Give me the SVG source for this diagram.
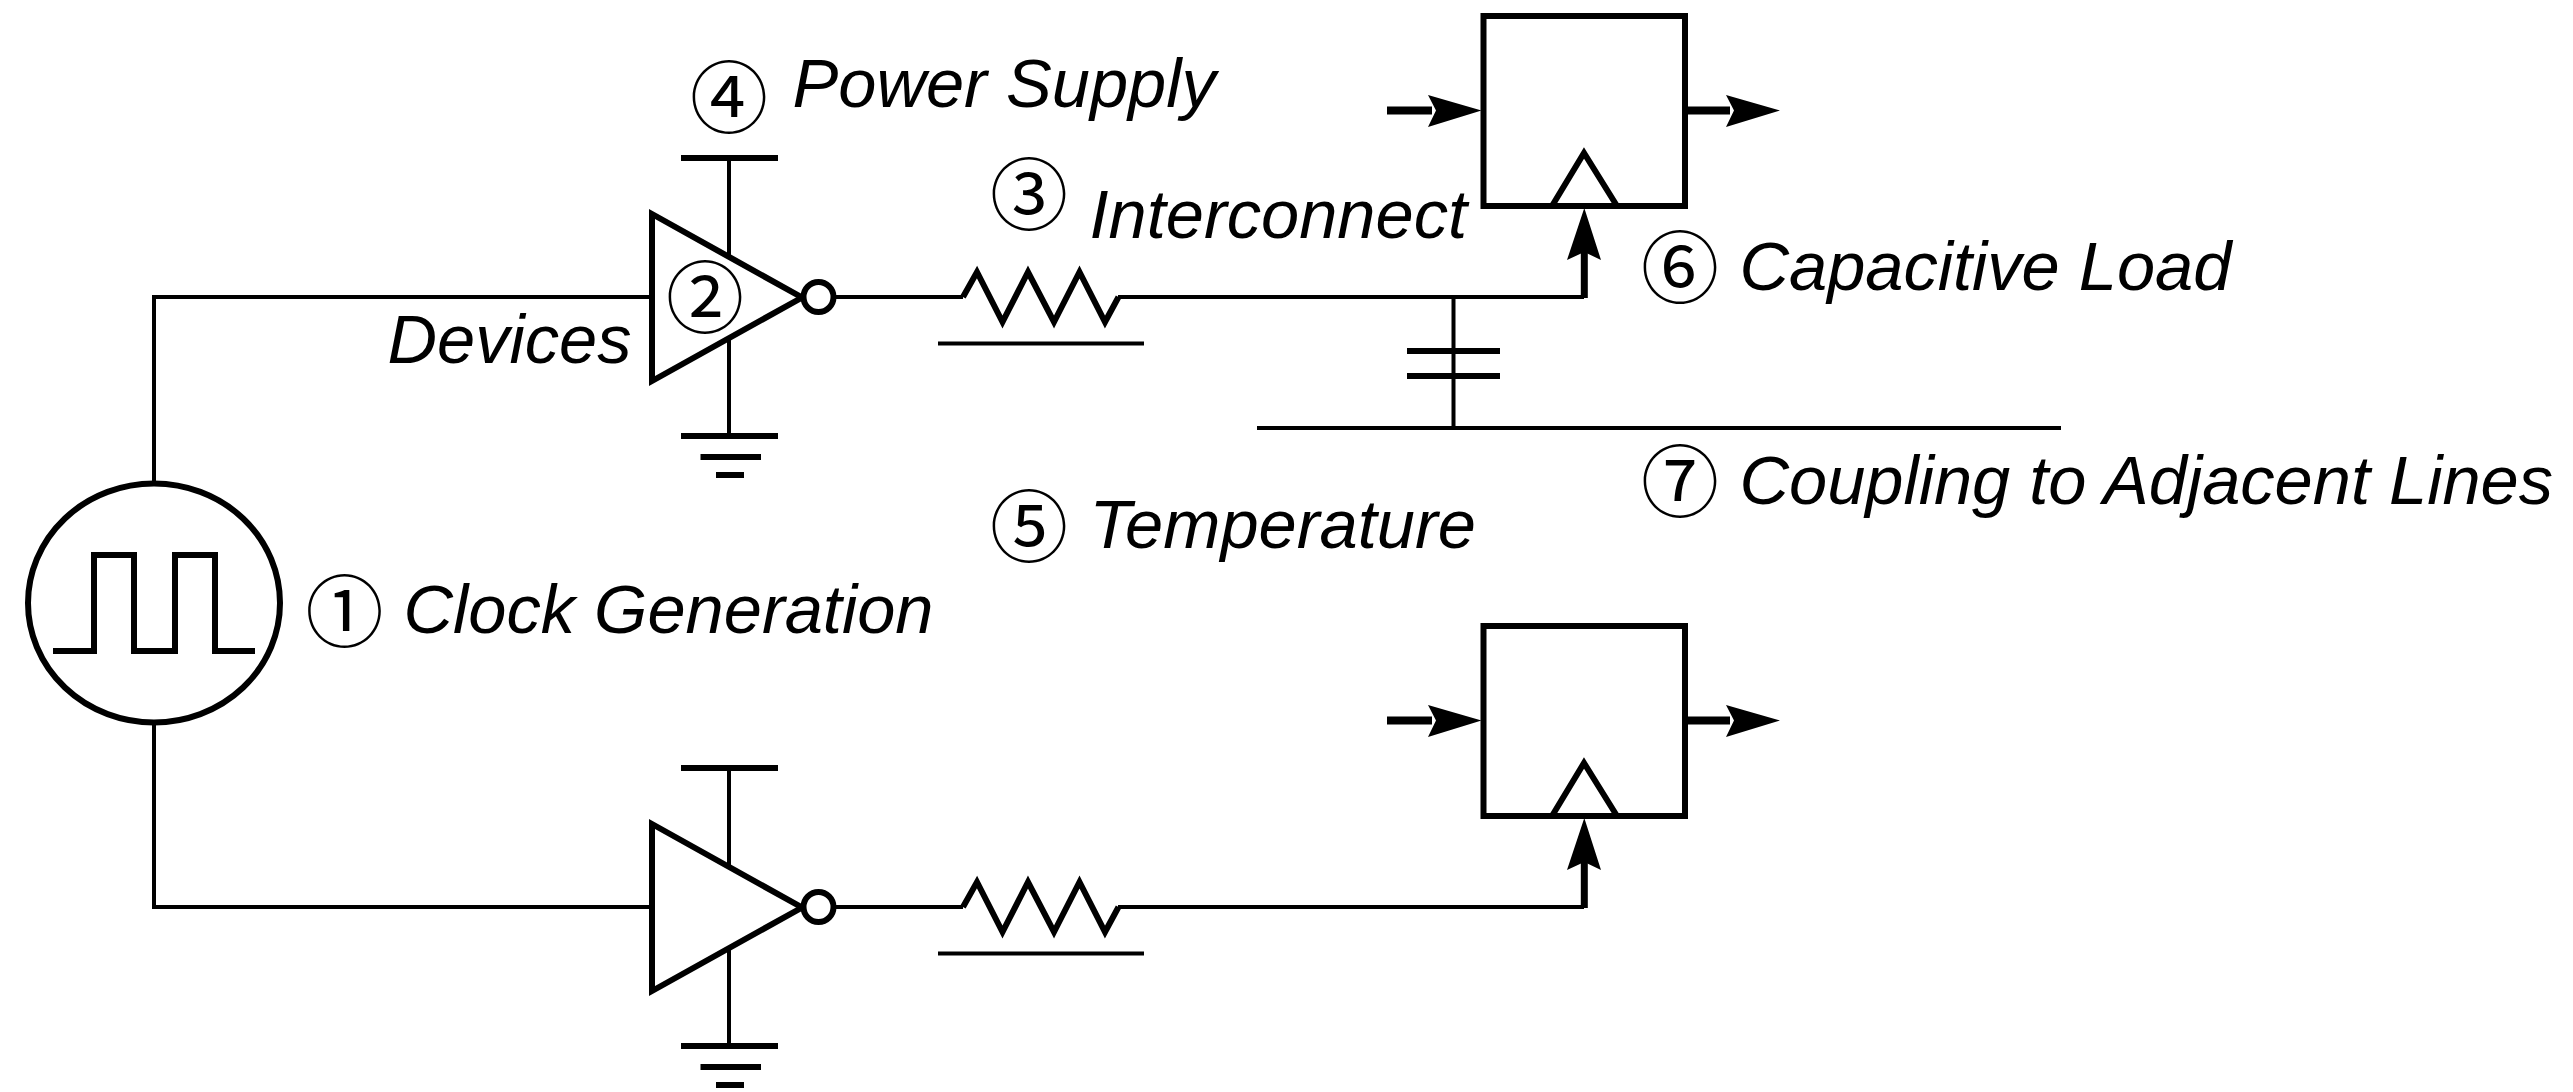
<svg xmlns="http://www.w3.org/2000/svg" width="2573" height="1092" viewBox="0 0 2573 1092">
<style>
.w{fill:none;stroke:#000;stroke-width:4}
.t{fill:none;stroke:#000;stroke-width:6}
.g{fill:#fff;stroke:#000;stroke-width:6}
.a{fill:#000;stroke:none}
.s{stroke:#000;stroke-width:8}
.l{font-family:"Liberation Sans",Arial,sans-serif;font-style:italic;font-size:68.600px;fill:#000}
.n{font-family:"Noto Sans CJK JP","DejaVu Sans",sans-serif;font-size:78px;fill:#000;text-anchor:middle}
</style>
<defs>
<g id="inv">
<line class="w" x1="729" y1="160" x2="729" y2="436"/>
<line class="t" x1="681" y1="158" x2="778" y2="158"/>
<line class="t" x1="681" y1="436" x2="778" y2="436"/>
<line class="t" x1="700.500" y1="457" x2="761" y2="457"/>
<line class="t" x1="716" y1="475" x2="744" y2="475"/>
<path class="g" d="M652 214V381L802 297.500Z"/>
<circle class="g" cx="818.500" cy="297" r="15"/>
<line class="w" x1="836" y1="297" x2="963" y2="297"/>
<path class="t" d="M963 297L977 272L1002.500 322L1028 272L1054 322L1079.500 272L1105 322L1118.500 297"/>
<line class="w" x1="938" y1="343.500" x2="1144" y2="343.500"/>
</g>
<g id="ff">
<rect class="t" x="1483.500" y="16" width="201.500" height="190"/>
<path class="t" d="M1552 206L1584 153L1617 206"/>
<line class="s" x1="1387" y1="110.500" x2="1432" y2="110.500"/>
<path class="a" d="M1481.500 110.500L1428 95L1436 110.500L1428 127Z"/>
<line class="s" x1="1688" y1="110.500" x2="1730" y2="110.500"/>
<path class="a" d="M1780 110.500L1726 95L1734 110.500L1726 127Z"/>
<path class="a" d="M1584.300 208L1567 260L1584.300 252L1601 260Z"/>
<line x1="1584.300" y1="245" x2="1584.300" y2="298" stroke="#000" stroke-width="7"/>
</g>
</defs>
<g id="connectors">
<path class="w" d="M154 481V297H652"/>
<path class="w" d="M154 722V907H652"/>
<path class="w" d="M1118 297H1584"/>
<path class="w" d="M1118 907H1584"/>
<line class="w" x1="1453.500" y1="297" x2="1453.500" y2="428"/>
<line class="w" x1="1257" y1="428" x2="2061" y2="428"/>
</g>
<g id="clock-source">
<ellipse class="g" cx="154" cy="603" rx="126" ry="119.500"/>
<path class="t" d="M53 651H94V555H134V651H175V555H215V651H255"/>
</g>
<g id="inverter-top"><use href="#inv"/></g>
<g id="inverter-bottom"><use href="#inv" y="610"/></g>
<g id="flipflop-top"><use href="#ff"/></g>
<g id="flipflop-bottom"><use href="#ff" y="610"/></g>
<g id="capacitor">
<line class="t" x1="1407" y1="351" x2="1500" y2="351"/>
<line class="t" x1="1407" y1="376" x2="1500" y2="376"/>
</g>
<g id="labels">
<text class="n" x="344.500" y="641">①</text><text class="l" x="403.500" y="633">Clock Generation</text>
<text class="n" x="705" y="327">②</text><text class="l" x="387.500" y="363">Devices</text>
<text class="n" x="1029" y="224">③</text><text class="l" x="1089.500" y="238">Interconnect</text>
<text class="n" x="729" y="127">④</text><text class="l" x="792.500" y="107">Power Supply</text>
<text class="n" x="1029" y="556">⑤</text><text class="l" x="1089.500" y="548">Temperature</text>
<text class="n" x="1680" y="297">⑥</text><text class="l" x="1739.500" y="290">Capacitive Load</text>
<text class="n" x="1680" y="511">⑦</text><text class="l" x="1739.500" y="504">Coupling to Adjacent Lines</text>
</g>
</svg>
